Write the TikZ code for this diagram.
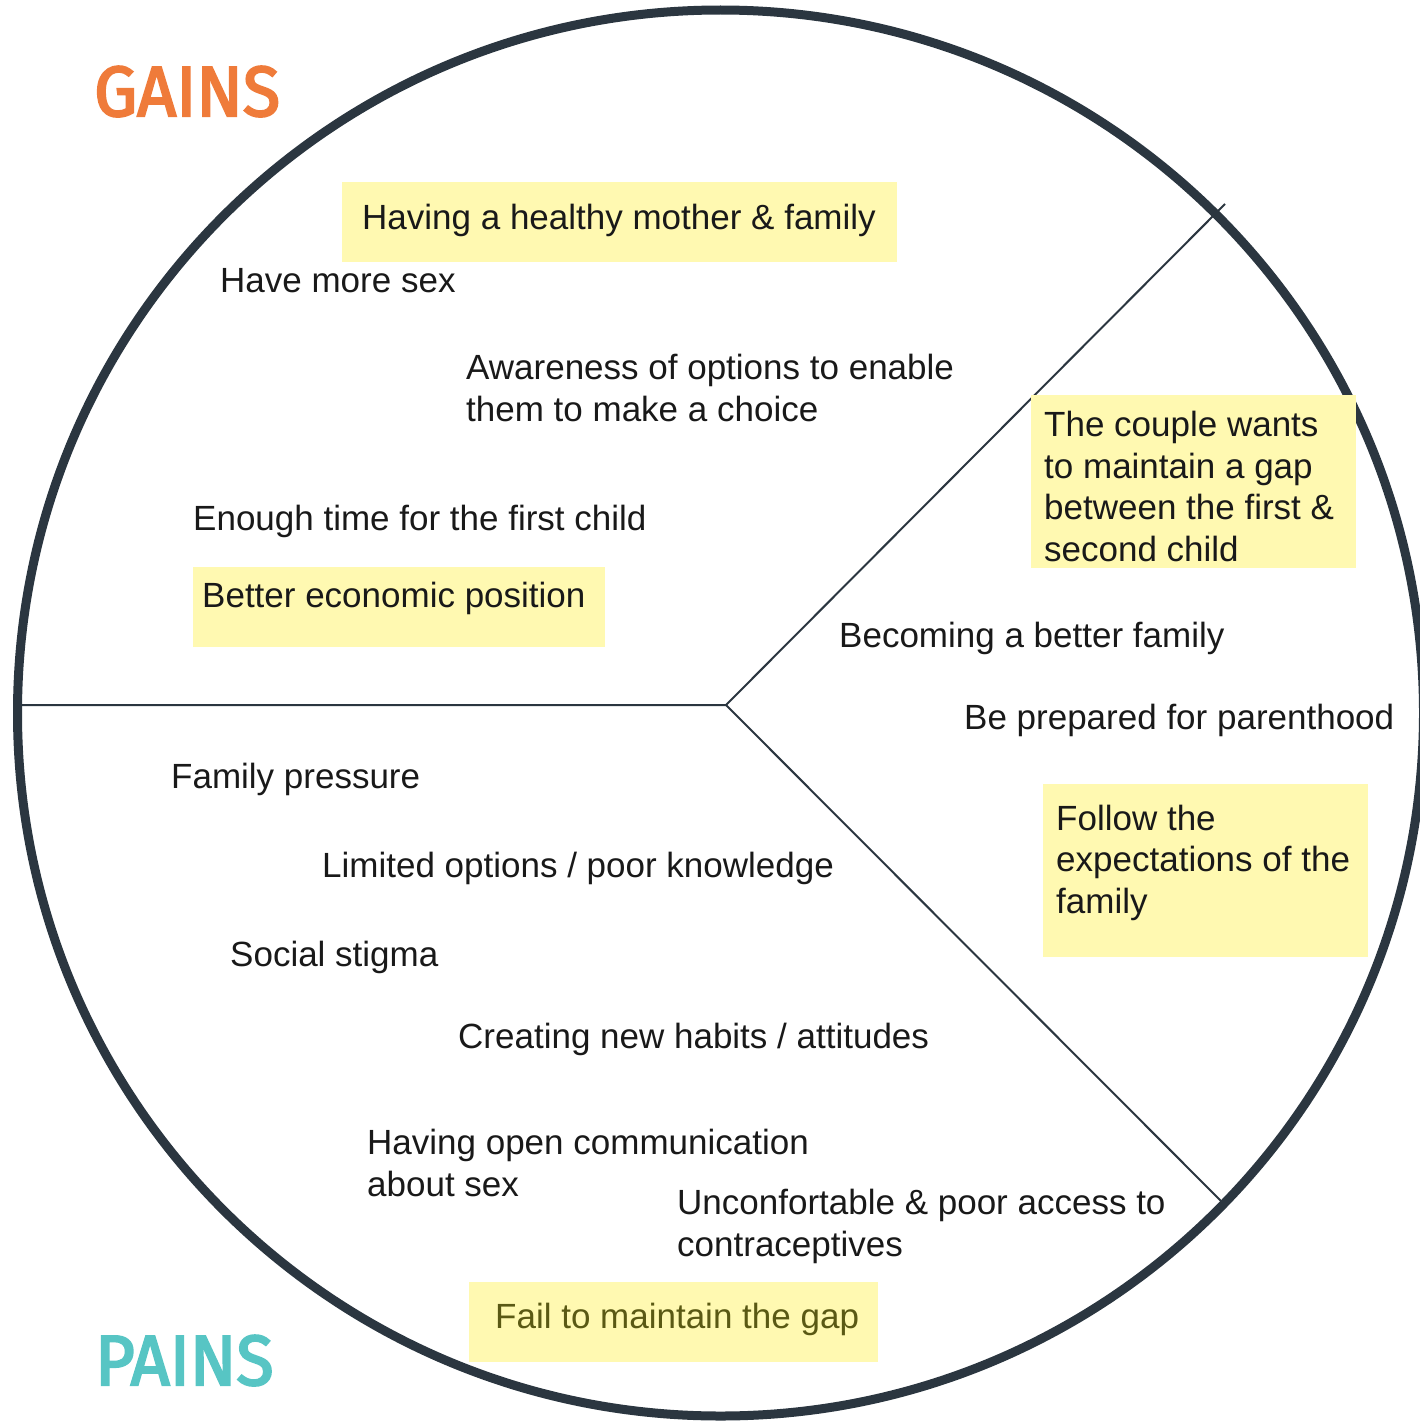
\documentclass[tikz,border=0pt]{standalone}
\usepackage{fontspec}
\setmainfont{Liberation Sans}
\newfontfamily\headfont{Fira Sans}[FakeStretch = 0.96, FakeBold = 3]
\usepackage{tikz}
\usetikzlibrary{positioning}
\definecolor{rim}{HTML}{2B3640}
\definecolor{gainorange}{HTML}{EF7B3A}
\definecolor{painteal}{HTML}{57C5C4}
\definecolor{stickyfill}{HTML}{FFF9B1}
\definecolor{olivetext}{HTML}{5A5914}
\tikzset{note/.style = {anchor = base west, inner sep = 0, align = left, text = black!90,
    font = \fontsize{35}{41.5}\selectfont}}
\tikzset{sticky/.style = {anchor = north west, fill = stickyfill, inner sep = 0}}
\tikzset{heading/.style = {anchor = base west, inner sep = 0, font = \headfont\fontsize{71}{71}\selectfont}}

\begin{document}
\begin{tikzpicture}[x = 1pt, y = -1pt]
    \useasboundingbox (0, 0) rectangle (1420, 1421);
    \clip (0, 0) rectangle (1420, 1421);
    % the wheel
    \draw [rim, line width = 9] (720.5, 713) circle [radius = 703];
    \coordinate (hub) at (726, 705);
    \coordinate (west) at (20, 705);
    \coordinate (northeast) at (1225, 204);
    \coordinate (southeast) at (1226, 1206);
    \draw [rim, line width = 2] (west) -- (hub) -- (northeast);
    \draw [rim, line width = 2] (hub) -- (southeast);
    \node [heading, text = gainorange] (gains) at (94, 116) {GAINS};
    \node [heading, text = painteal] (pains) at (95, 1385) {PAINS};
    % gains (multi-line notes sit on their last baseline)
    \node [sticky, minimum width = 555, minimum height = 80] (healthy) at (342, 182) {};
    \node [note] (healthytext) at (362, 229) {Having a healthy mother \& family};
    \node [note] (sex) at (220, 292) {Have more sex};
    \node [note] (awareness) at (466, 421) {Awareness of options to enable\\them to make a choice};
    \node [note] (time) at (193, 530) {Enough time for the first child};
    \node [sticky, minimum width = 412, minimum height = 80] (economic) at (193, 567) {};
    \node [note] (economictext) at (202, 607) {Better economic position};
    % jobs
    \node [sticky, minimum width = 325, minimum height = 173] (gap) at (1031, 395) {};
    \node [note] (gaptext) at (1044, 561) {The couple wants\\to maintain a gap\\between the first \&\\second child};
    \node [note] (better) at (839, 647) {Becoming a better family};
    \node [note] (prepared) at (964, 729) {Be prepared for parenthood};
    \node [sticky, minimum width = 325, minimum height = 173] (expect) at (1043, 784) {};
    \node [note] (expecttext) at (1056, 913) {Follow the\\expectations of the\\family};
    % pains
    \node [note] (pressure) at (171, 788) {Family pressure};
    \node [note] (limited) at (322, 877) {Limited options / poor knowledge};
    \node [note] (stigma) at (230, 966) {Social stigma};
    \node [note] (habits) at (458, 1048) {Creating new habits / attitudes};
    \node [note] (open) at (367, 1196) {Having open communication\\about sex};
    \node [note] (access) at (677, 1256) {Unconfortable \& poor access to\\contraceptives};
    \node [sticky, minimum width = 409, minimum height = 80] (fail) at (469, 1282) {};
    \node [note, text = olivetext] (failtext) at (495, 1328) {Fail to maintain the gap};
\end{tikzpicture}
\end{document}
